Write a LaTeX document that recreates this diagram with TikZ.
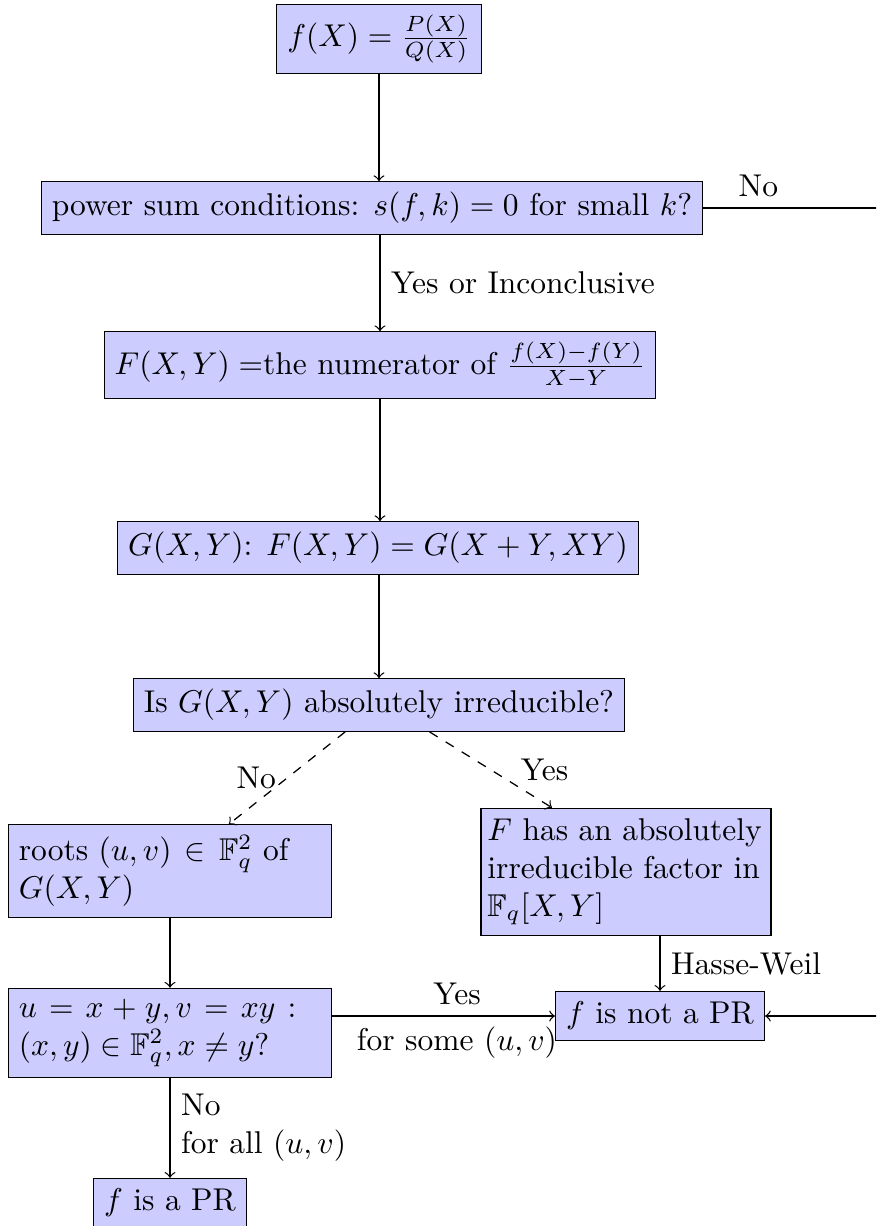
\documentclass[tikz,border=0pt]{standalone}
\usepackage{amsmath,amssymb}
\usetikzlibrary{arrows}
\begin{document}
\begin{tikzpicture}[x=0.3175pt,y=-0.3175pt,
  box/.style={draw, fill=blue!20, rectangle},
  arr/.style={->},
  darr/.style={->, dashed}]
\useasboundingbox (0,0) rectangle (876,1226);
\clip (0,0) rectangle (876,1226);
\node[box] (top) at (379,39) {$f(X)=\frac{P(X)}{Q(X)}$};
\node[box] (ps) at (372,208) {power sum conditions: $s(f,k)=0$ for small $k$?};
\node[box] (F) at (380,365) {$F(X,Y)=$the numerator of $\frac{f(X)-f(Y)}{X-Y}$};
\node[box] (G) at (378,548) {$G(X,Y)$: $F(X,Y)=G(X+Y,XY)$};
\node[box] (Is) at (379,705) {Is $G(X,Y)$ absolutely irreducible?};
\node[box, text width=96pt] (roots) at (170,871) {roots $(u,v)\in\mathbb{F}_q^2$ of $G(X,Y)$};
\node[box, text width=88pt, inner xsep=2pt] (Fhas) at (626,872) {\hyphenpenalty=10000 $F$ has an absolutely irreducible factor in $\mathbb{F}_q[X,Y]$};
\node[box, text width=96pt] (u) at (170,1033) {$u=x+y,v=xy:(x,y)\in\mathbb{F}_q^2,x\neq y$?};
\node[box] (notpr) at (660,1016) {$f$ is not a PR};
\node[box] (pr) at (170,1203) {$f$ is a PR};
\coordinate (r1) at (900,208);
\coordinate (r2) at (900,1016);
\draw[arr] (top) -- (top |- ps.north);
\draw[arr] (ps.south -| F.north) -- node[right] {Yes or Inconclusive} (F.north);
\draw[arr] (F) -- (F |- G.north);
\draw[arr] (G.south -| Is.north) -- (Is);
\draw[darr] (Is) -- node[left] {No} (roots);
\draw[darr] (Is.-28) -- node[midway, right=6pt] {Yes} (Fhas.139);
\draw[arr] (roots.south -| u.north) -- (u);
\draw[arr] (Fhas.south -| notpr.north) -- node[right] {Hasse-Weil} (notpr.north);
\draw[arr] (u.east |- notpr.west) -- node[pos=0.56, above] {Yes} node[pos=0.56, below] {for some $(u,v)$} (notpr.west);
\draw[arr] (u) -- node[right, align=left] {No\\for all $(u,v)$} (pr);
\draw (ps.east) -- node[pos=0.28, above] {No} (r1) -- (r2);
\draw[arr] (r2) -- (notpr.east);
\end{tikzpicture}
\end{document}
